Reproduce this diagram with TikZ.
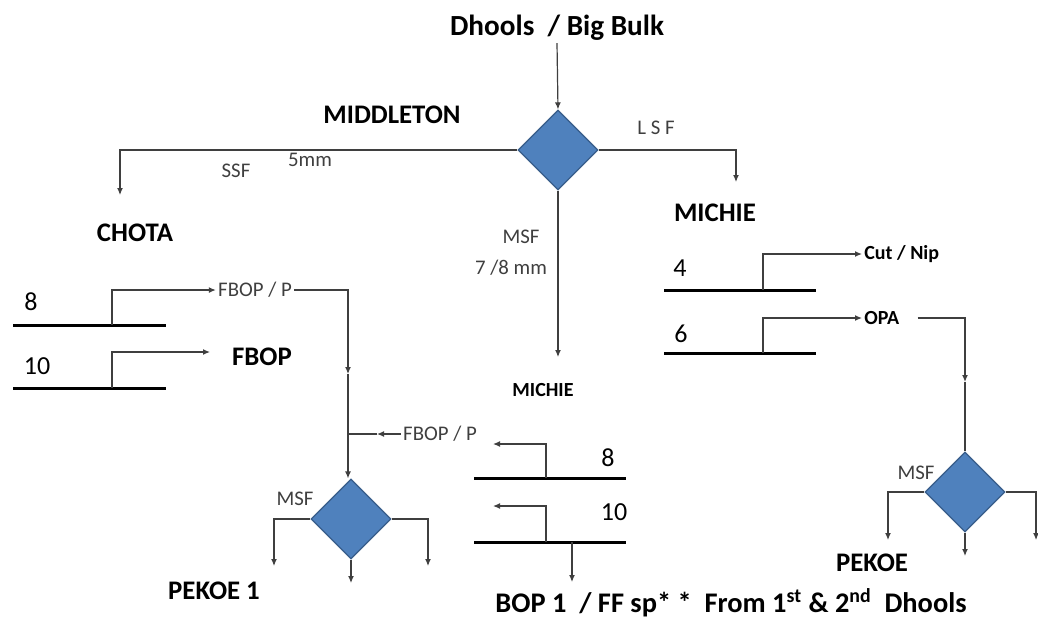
\documentclass[tikz,border=0pt]{standalone}
\usepackage{fontspec}
\setmainfont{Carlito}
\usetikzlibrary{shapes.geometric, arrows.meta, calc}

\definecolor{sieveblue}{HTML}{4F81BD}
\definecolor{sieveedge}{HTML}{385D8A}
\definecolor{linegray}{HTML}{3F3F3F}

\tikzset{
  sieve/.style={diamond, draw=sieveedge, fill=sieveblue, line width=0.6pt,
                minimum width=40pt, minimum height=40pt, inner sep=0pt},
  flow/.style={draw=linegray, line width=0.6pt},
  tray/.style={draw=black, line width=1.5pt},
  bigtxt/.style={font=\bfseries\fontsize{13.4}{15}\selectfont, inner sep=1pt},
  midtxt/.style={font=\bfseries\fontsize{10}{12}\selectfont, inner sep=1pt},
  smalltxt/.style={font=\fontsize{10.4}{12}\selectfont, text=linegray, inner sep=1pt},
  numtxt/.style={font=\fontsize{13}{15}\selectfont, inner sep=1pt},
}

\begin{document}
\begin{tikzpicture}[x=0.5pt, y=-0.5pt, >={Latex[length=3.5pt, width=3pt]}]
    \useasboundingbox (0,0) rectangle (1038,618);

    % Sàng chính
    \node[bigtxt, font=\bfseries\fontsize{14.6}{16}\selectfont] (title) at (557,28) {Dhools~ / Big Bulk};
    \node[sieve] (middleton) at (558,150) {};
    \node[bigtxt] (middletonlbl) at (392,115) {MIDDLETON};
    \node[bigtxt] (chota) at (135,233) {CHOTA};
    \node[bigtxt] (michie) at (715,213) {MICHIE};
    \node[midtxt] (michiemid) at (543,390) {MICHIE};
    \node[smalltxt] (ssf) at (236,171) {SSF};
    \node[smalltxt] (fivemm) at (310,160) {5mm};
    \node[smalltxt] (lsf) at (656,128) {L S F};
    \node[smalltxt] (msfmid) at (521,237) {MSF};
    \node[smalltxt] (sevenmm) at (511,268) {7 /8 mm};

    \coordinate (chotaend) at (120,195);
    \coordinate (michieend) at (736,182);
    \coordinate (michiemidend) at (558,357);
    \draw[flow,->] (title.south) -- (middleton.north);
    \draw[flow,->] (middleton.west) -| (chotaend);
    \draw[flow,->] (middleton.east) -| (michieend);
    \draw[flow,->] (middleton.south) -- (michiemidend);

    % Khay trái: 8 và 10
    \coordinate (tleftA) at (13,325);  \coordinate (tleftB) at (166,325);
    \coordinate (tleftC) at (13,388);  \coordinate (tleftD) at (166,388);
    \draw[tray] (tleftA) -- (tleftB);
    \draw[tray] (tleftC) -- (tleftD);
    \node[numtxt] (eightL) at (31,302) {8};
    \node[numtxt] (tenL) at (37,366) {10};
    \node[smalltxt] (fbopp) at (255,290) {FBOP / P};
    \node[bigtxt] (fbop) at (262,357) {FBOP};
    \coordinate (fbopend) at (210,352);
    \draw[flow,->] (112,325) |- (fbopp.west);
    \draw[flow,->] (112,388) |- (fbopend);

    \node[sieve] (pekoeonesv) at (351,519) {};
    \node[smalltxt] (msfleft) at (295,499) {MSF};
    \node[bigtxt] (pekoeone) at (214,591) {PEKOE 1};
    \coordinate (turnL) at (348,290);
    \coordinate (midarrowL) at (348,374);
    \draw[flow,->] (fbopp.east) -- (turnL) -- (midarrowL);
    \draw[flow,->] (midarrowL) -- (pekoeonesv.north -| midarrowL);

    \node[smalltxt] (fbopptwo) at (440,434) {FBOP / P};
    \coordinate (joinL) at (348,434);
    \coordinate (tipL) at (377,434);
    \draw[flow,->] (fbopptwo.west) -- (tipL);
    \draw[flow] (tipL) -- (joinL);

    \draw[flow,->] (pekoeonesv.west) -| (274,566);
    \draw[flow,->] (pekoeonesv.east) -| (428,566);
    \draw[flow,->] (pekoeonesv.south) -- (351,583);

    % Khay giữa: 8 và 10
    \coordinate (tmidA) at (474,478);  \coordinate (tmidB) at (626,478);
    \coordinate (tmidC) at (474,542);  \coordinate (tmidD) at (626,542);
    \draw[tray] (tmidA) -- (tmidB);
    \draw[tray] (tmidC) -- (tmidD);
    \node[numtxt] (eightM) at (608,458) {8};
    \node[numtxt] (tenM) at (614,512) {10};
    \draw[flow,->] (546,478) |- (493,444);
    \draw[flow,->] (546,542) |- (493,506);

    \node[font=\bfseries\fontsize{14.2}{16}\selectfont, inner sep=1pt] (bopone) at (731,603)
        {BOP 1~ / FF sp* *~ From 1\textsuperscript{st} \& 2\textsuperscript{nd}~ Dhools};
    \draw[flow,->] (572,542) -- (572,582);

    % Khay phải: 4 và 6
    \coordinate (trightA) at (664,290);  \coordinate (trightB) at (816,290);
    \coordinate (trightC) at (664,353);  \coordinate (trightD) at (816,353);
    \draw[tray] (trightA) -- (trightB);
    \draw[tray] (trightC) -- (trightD);
    \node[numtxt] (fourR) at (680,268) {4};
    \node[numtxt] (sixR) at (681,334) {6};
    \node[midtxt, anchor=west] (cutnip) at (862,254) {Cut / Nip};
    \node[midtxt, anchor=west] (opa) at (862,318) {OPA};
    \draw[flow,->] (763,290) |- (cutnip.west);
    \draw[flow,->] (763,353) |- (opa.west);

    \node[sieve] (pekoesv) at (965,492) {};
    \node[smalltxt] (msfright) at (916,473) {MSF};
    \node[bigtxt] (pekoe) at (872,563) {PEKOE};
    \coordinate (turnR) at (965,318);
    \coordinate (midarrowR) at (965,382);
    \draw[flow,->] ([xshift=8pt]opa.east) -- (turnR) -- (midarrowR);
    \draw[flow] (midarrowR) -- (pekoesv.north);
    \draw[flow,->] (pekoesv.west) -| (888,540);
    \draw[flow,->] (pekoesv.east) -| (1036,540);
    \draw[flow,->] (pekoesv.south) -- (965,556);
\end{tikzpicture}
\end{document}
